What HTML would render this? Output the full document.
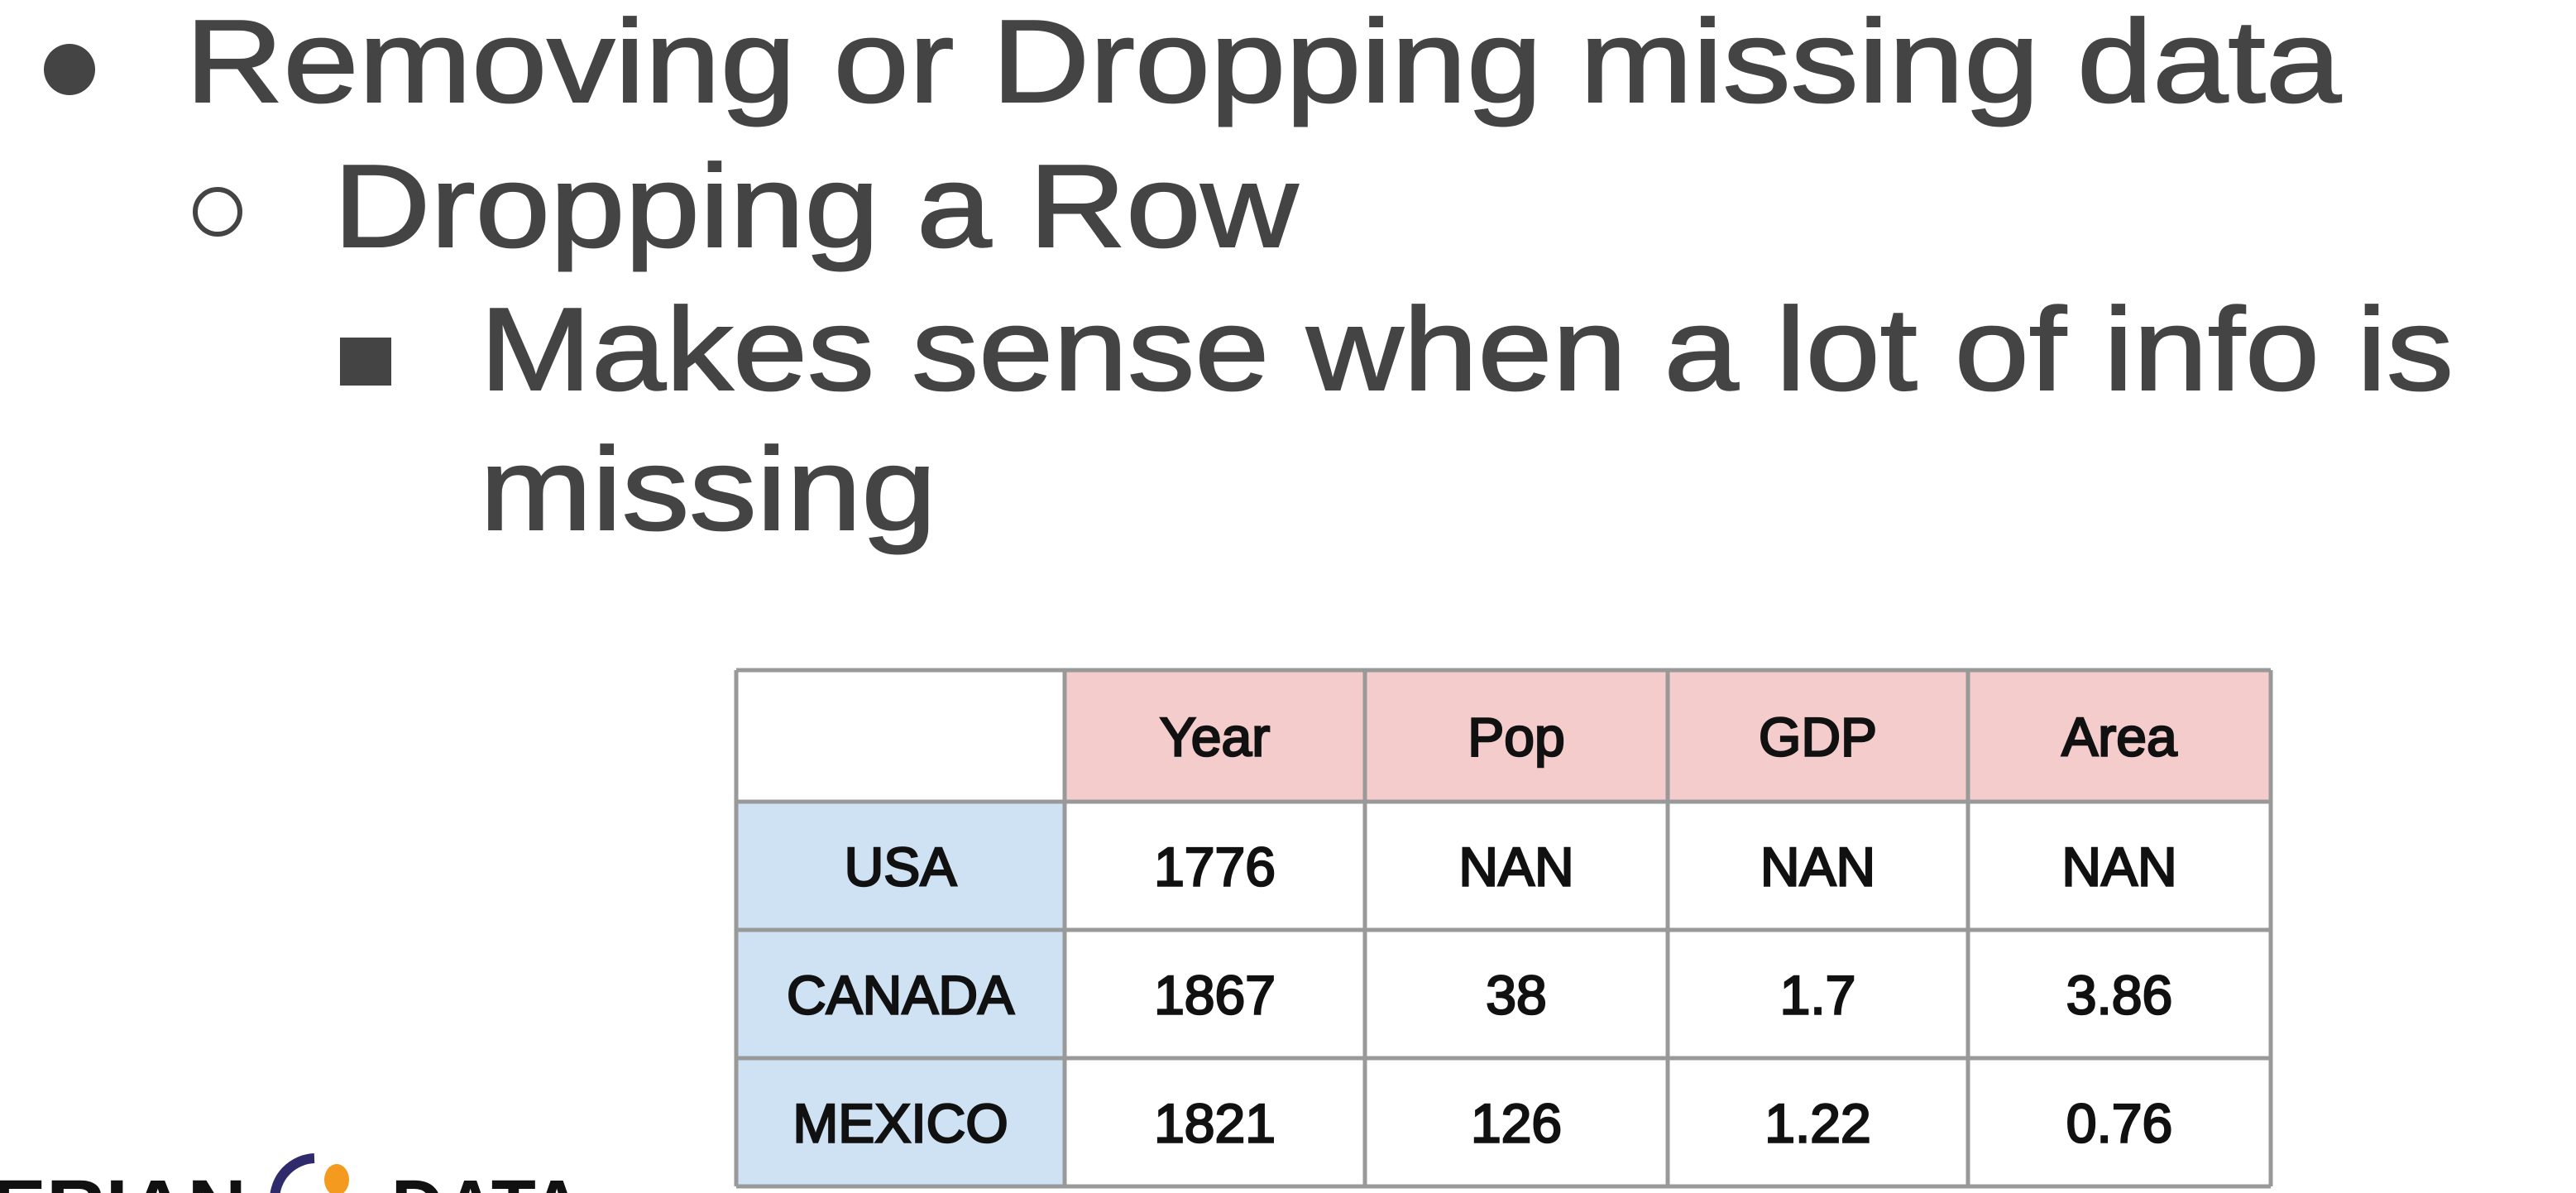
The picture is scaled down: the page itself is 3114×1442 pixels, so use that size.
<!DOCTYPE html>
<html><head><meta charset="utf-8"><style>
html,body{margin:0;padding:0;background:#fff;}
svg{display:block;}
</style></head><body>
<svg width="3114" height="1442" viewBox="0 0 3114 1442" xmlns="http://www.w3.org/2000/svg">
<g font-family="Liberation Sans, sans-serif" fill="#444">
  <circle cx="84" cy="84" r="31" fill="#444"/>
  <text x="224" y="123" font-size="142" stroke="#444" stroke-width="2" textLength="2606" lengthAdjust="spacingAndGlyphs">Removing or Dropping missing data</text>
  <circle cx="263" cy="256" r="27" fill="none" stroke="#444" stroke-width="6"/>
  <text x="403" y="298" font-size="142" stroke="#444" stroke-width="2" textLength="1166" lengthAdjust="spacingAndGlyphs">Dropping a Row</text>
  <rect x="411" y="408" width="62" height="58" fill="#444"/>
  <text x="580" y="471" font-size="142" stroke="#444" stroke-width="2" textLength="2386" lengthAdjust="spacingAndGlyphs">Makes sense when a lot of info is</text>
  <text x="580" y="640" font-size="142" stroke="#444" stroke-width="2" textLength="552" lengthAdjust="spacingAndGlyphs">missing</text>
</g>
<g id="tbl"></g>
<g>
  <text x="-10" y="1490" font-family="Liberation Sans, sans-serif" font-weight="bold" font-size="92" fill="#111" textLength="308" lengthAdjust="spacingAndGlyphs">ERIAN</text>
  <path d="M380 1400 A50 50 0 0 0 332 1450" fill="none" stroke="#2e2a6b" stroke-width="12"/>
  <ellipse cx="407" cy="1426" rx="15" ry="19" fill="#f39a1f"/>
  <text x="473" y="1490" font-family="Liberation Sans, sans-serif" font-weight="bold" font-size="92" fill="#111" textLength="232" lengthAdjust="spacingAndGlyphs">DATA</text>
</g>
</svg>
<script>
const columns = ["Year","Pop","GDP","Area"];
const rowLabels = ["USA","CANADA","MEXICO"];
const cells = [["1776","NAN","NAN","NAN"],["1867","38","1.7","3.86"],["1821","126","1.22","0.76"]];
const NS="http://www.w3.org/2000/svg";
const g=document.getElementById('tbl');
const colX=[890,1287,1650,2016,2379,2745];
const rowY=[810,969,1124,1279,1434];
function rect(x,y,w,h,fill,name){const r=document.createElementNS(NS,'rect');r.setAttribute('x',x);r.setAttribute('y',y);r.setAttribute('width',w);r.setAttribute('height',h);r.setAttribute('fill',fill);


g.appendChild(r);return r;}
function txt(x,y,s,name){const t=document.createElementNS(NS,'text');t.setAttribute('x',x);t.setAttribute('y',y);t.setAttribute('text-anchor','middle');t.setAttribute('font-family','Liberation Sans, sans-serif');t.setAttribute('font-size','66');t.setAttribute('fill','#111');t.setAttribute('stroke','#111');t.setAttribute('stroke-width','2.5');t.textContent=s;


g.appendChild(t);}
rect(colX[0],rowY[0],colX[5]-colX[0],rowY[4]-rowY[0],'#fff','table-background');
for(let c=0;c<columns.length;c++){rect(colX[c+1],rowY[0],colX[c+2]-colX[c+1],rowY[1]-rowY[0],'#f4cccc','column-header-bg');
txt((colX[c+1]+colX[c+2])/2,(rowY[0]+rowY[1])/2+24,columns[c],'column-header');}
for(let r=0;r<rowLabels.length;r++){rect(colX[0],rowY[r+1],colX[1]-colX[0],rowY[r+2]-rowY[r+1],'#cfe2f3','row-header-bg');
txt((colX[0]+colX[1])/2,(rowY[r+1]+rowY[r+2])/2+24,rowLabels[r],'row-header');
for(let c=0;c<columns.length;c++){txt((colX[c+1]+colX[c+2])/2,(rowY[r+1]+rowY[r+2])/2+24,cells[r][c],'table-cell');}}
for(const x of colX){const l=document.createElementNS(NS,'line');l.setAttribute('x1',x);l.setAttribute('x2',x);l.setAttribute('y1',rowY[0]);l.setAttribute('y2',rowY[4]);l.setAttribute('stroke','#999');l.setAttribute('stroke-width','5');


g.appendChild(l);}
for(const y of rowY){const l=document.createElementNS(NS,'line');l.setAttribute('x1',colX[0]);l.setAttribute('x2',colX[5]);l.setAttribute('y1',y);l.setAttribute('y2',y);l.setAttribute('stroke','#999');l.setAttribute('stroke-width','5');


g.appendChild(l);}
</script>
</body></html>
